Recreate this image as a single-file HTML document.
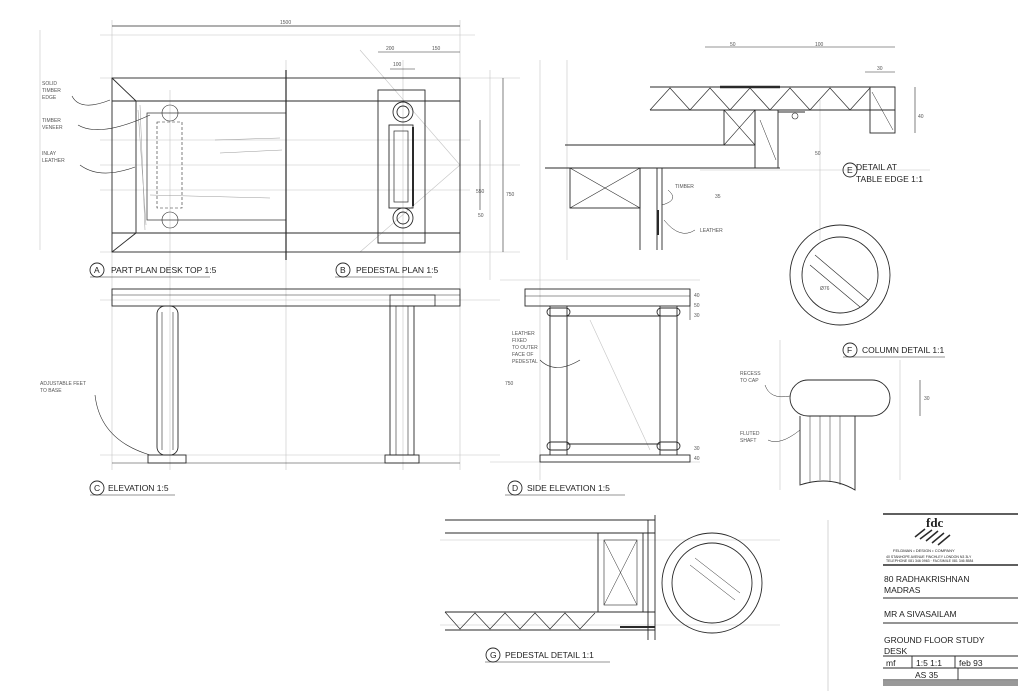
<!DOCTYPE html>
<html><head><style>
html,body{margin:0;padding:0;background:#fff;}
svg{display:block;}
text{font-family:"Liberation Sans",sans-serif;fill:#222;stroke:none;}
.t{font-size:8.5px;}
.s{font-size:5px;fill:#555;}
</style></head><body>
<svg width="1024" height="691" viewBox="0 0 1024 691" stroke="#2a2a2a" fill="none" stroke-width="0.9">
<!-- construction lines -->
<g stroke="#c4c4c4" stroke-width="0.6">
<line x1="100" y1="35" x2="475" y2="35"/><line x1="100" y1="78" x2="520" y2="78"/><line x1="100" y1="252" x2="520" y2="252"/>
<line x1="100" y1="165" x2="520" y2="165"/><line x1="40" y1="30" x2="40" y2="250"/>
<line x1="112" y1="20" x2="112" y2="470"/><line x1="460" y1="20" x2="460" y2="470"/><line x1="286" y1="60" x2="286" y2="470"/>
<line x1="170" y1="90" x2="170" y2="470"/><line x1="403" y1="60" x2="403" y2="470"/>
<line x1="360" y1="50" x2="460" y2="165"/><line x1="460" y1="165" x2="360" y2="252"/>
<line x1="500" y1="280" x2="700" y2="280"/><line x1="490" y1="462" x2="700" y2="462"/>
<line x1="567" y1="60" x2="567" y2="260"/><line x1="820" y1="100" x2="820" y2="240"/>
<line x1="440" y1="540" x2="780" y2="540"/><line x1="440" y1="625" x2="780" y2="625"/>
<line x1="590" y1="320" x2="650" y2="450"/>
<line x1="780" y1="340" x2="780" y2="490"/><line x1="900" y1="360" x2="900" y2="480"/>
<line x1="100" y1="140" x2="470" y2="140"/><line x1="100" y1="190" x2="470" y2="190"/>
<line x1="490" y1="70" x2="490" y2="280"/><line x1="540" y1="60" x2="540" y2="480"/>
<line x1="100" y1="300" x2="500" y2="300"/><line x1="100" y1="455" x2="500" y2="455"/>
<line x1="700" y1="170" x2="930" y2="170"/>
</g>
<!-- A plan -->
<rect x="112" y="78" width="348" height="174"/>
<line x1="112" y1="101" x2="460" y2="101"/><line x1="112" y1="233" x2="460" y2="233"/>
<line x1="112" y1="78" x2="136" y2="101"/><line x1="112" y1="252" x2="136" y2="233"/>
<line x1="136" y1="101" x2="136" y2="233"/>
<rect x="147" y="113" width="139" height="107" stroke-width="0.7"/>
<line x1="286" y1="70" x2="286" y2="260" stroke-width="1.2"/>
<rect x="157" y="122" width="25" height="86" stroke-dasharray="3 2" stroke-width="0.6"/>
<circle cx="170" cy="113" r="8" stroke-width="0.6"/><circle cx="170" cy="220" r="8" stroke-width="0.6"/>
<g stroke="#999" stroke-width="0.5"><line x1="140" y1="105" x2="145" y2="230"/><line x1="138" y1="110" x2="146" y2="225"/><line x1="215" y1="140" x2="280" y2="138"/><line x1="220" y1="153" x2="282" y2="150"/><line x1="150" y1="195" x2="270" y2="198"/></g>
<line x1="112" y1="26" x2="460" y2="26" stroke-width="0.7"/>
<text x="280" y="24" class="s">1500</text>
<g class="s"><text x="42" y="85" class="s">SOLID</text><text x="42" y="92" class="s">TIMBER</text><text x="42" y="99" class="s">EDGE</text><text x="42" y="122" class="s">TIMBER</text><text x="42" y="129" class="s">VENEER</text><text x="42" y="155" class="s">INLAY</text><text x="42" y="162" class="s">LEATHER</text></g>
<path d="M72 96 Q80 112 110 100 M78 125 Q100 138 150 115 M80 165 Q100 180 135 167" stroke-width="0.6"/>
<!-- B pedestal plan -->
<rect x="378" y="90" width="47" height="153"/>
<circle cx="403" cy="112" r="10"/><circle cx="403" cy="112" r="6"/>
<circle cx="403" cy="218" r="10"/><circle cx="403" cy="218" r="6"/>
<rect x="389" y="125" width="24" height="83"/><rect x="394" y="131" width="14" height="71" stroke-width="0.7"/>
<line x1="413" y1="127" x2="413" y2="206" stroke-width="2"/>
<line x1="378" y1="52" x2="460" y2="52" stroke-width="0.6"/><line x1="390" y1="69" x2="415" y2="69" stroke-width="0.6"/>
<text x="386" y="50" class="s">200</text><text x="432" y="50" class="s">150</text><text x="393" y="66" class="s">100</text>
<line x1="480" y1="120" x2="480" y2="210" stroke-width="0.6"/><line x1="503" y1="78" x2="503" y2="252" stroke-width="0.6"/>
<text x="476" y="193" class="s">550</text><text x="506" y="196" class="s">750</text><text x="478" y="217" class="s">50</text>
<!-- labels A B -->
<circle cx="97" cy="270" r="7"/><text x="94" y="273" class="t">A</text>
<text x="111" y="273" class="t">PART  PLAN  DESK TOP  1:5</text><line x1="90" y1="277" x2="210" y2="277" stroke-width="0.6"/>
<circle cx="343" cy="270" r="7"/><text x="340" y="273" class="t">B</text>
<text x="356" y="273" class="t">PEDESTAL   PLAN 1:5</text><line x1="335" y1="277" x2="432" y2="277" stroke-width="0.6"/>
<!-- C elevation -->
<rect x="112" y="289" width="348" height="17"/><line x1="112" y1="295" x2="460" y2="295" stroke-width="0.6"/>
<rect x="390" y="295" width="45" height="11" stroke-width="0.8"/>
<rect x="157" y="306" width="21" height="149" rx="8"/><line x1="162" y1="312" x2="162" y2="450" stroke-width="0.6"/><line x1="173" y1="312" x2="173" y2="450" stroke-width="0.6"/>
<rect x="390" y="306" width="24" height="149"/><line x1="396" y1="306" x2="396" y2="455" stroke-width="0.6"/><line x1="408" y1="306" x2="408" y2="455" stroke-width="0.6"/>
<rect x="148" y="455" width="38" height="8"/><rect x="385" y="455" width="34" height="8"/>
<line x1="112" y1="463" x2="460" y2="463" stroke-width="0.6"/>
<text x="40" y="385" class="s">ADJUSTABLE FEET</text><text x="40" y="392" class="s">TO BASE</text>
<path d="M95 395 Q100 440 150 455" stroke-width="0.6"/>
<circle cx="97" cy="488" r="7"/><text x="94" y="491" class="t">C</text>
<text x="108" y="491" class="t">ELEVATION  1:5</text><line x1="90" y1="495" x2="175" y2="495" stroke-width="0.6"/>
<!-- D side elevation -->
<rect x="525" y="289" width="165" height="17"/><line x1="525" y1="296" x2="690" y2="296" stroke-width="0.6"/>
<line x1="550" y1="306" x2="550" y2="455"/><line x1="567" y1="306" x2="567" y2="455"/>
<line x1="660" y1="306" x2="660" y2="455"/><line x1="677" y1="306" x2="677" y2="455"/>
<rect x="547" y="308" width="23" height="8" rx="4"/><rect x="657" y="308" width="23" height="8" rx="4"/>
<rect x="547" y="442" width="23" height="8" rx="4"/><rect x="657" y="442" width="23" height="8" rx="4"/>
<line x1="567" y1="316" x2="660" y2="316"/><line x1="567" y1="444" x2="660" y2="444"/>
<rect x="540" y="455" width="150" height="7"/>
<line x1="690" y1="289" x2="690" y2="320" stroke-width="0.6"/>
<text x="694" y="297" class="s">40</text><text x="694" y="307" class="s">50</text><text x="694" y="317" class="s">30</text>
<text x="694" y="450" class="s">30</text><text x="694" y="460" class="s">40</text><text x="505" y="385" class="s">750</text>
<text x="512" y="335" class="s">LEATHER</text><text x="512" y="342" class="s">FIXED</text><text x="512" y="349" class="s">TO OUTER</text><text x="512" y="356" class="s">FACE OF</text><text x="512" y="363" class="s">PEDESTAL</text>
<path d="M540 360 Q555 375 580 360" stroke-width="0.6"/>
<circle cx="515" cy="488" r="7"/><text x="512" y="491" class="t">D</text>
<text x="527" y="491" class="t">SIDE  ELEVATION  1:5</text><line x1="505" y1="495" x2="625" y2="495" stroke-width="0.6"/>
<!-- E detail -->
<line x1="650" y1="87" x2="895" y2="87"/><line x1="650" y1="110" x2="895" y2="110"/>
<line x1="720" y1="87" x2="780" y2="87" stroke-width="2.5"/>
<polyline points="650,110 670,88 690,110 710,88 730,110 750,88 770,110 790,88 810,110 830,88 850,110 870,88" stroke-width="0.7"/>
<rect x="870" y="87" width="25" height="46"/><line x1="872" y1="92" x2="893" y2="130" stroke-width="0.5"/>
<rect x="724" y="110" width="31" height="35"/><line x1="724" y1="110" x2="755" y2="145" stroke-width="0.6"/><line x1="755" y1="110" x2="724" y2="145" stroke-width="0.6"/>
<rect x="755" y="110" width="23" height="58"/><line x1="760" y1="120" x2="776" y2="160" stroke-width="0.5"/>
<line x1="778" y1="112" x2="805" y2="112"/><circle cx="795" cy="116" r="3" stroke-width="0.6"/>
<line x1="565" y1="145" x2="755" y2="145"/><line x1="545" y1="168" x2="780" y2="168"/>
<rect x="570" y="168" width="70" height="40"/><line x1="570" y1="168" x2="640" y2="208" stroke-width="0.6"/><line x1="640" y1="168" x2="570" y2="208" stroke-width="0.6"/>
<line x1="640" y1="168" x2="640" y2="250"/><line x1="657" y1="168" x2="657" y2="250"/><line x1="662" y1="168" x2="662" y2="250"/>
<line x1="658" y1="210" x2="658" y2="235" stroke-width="2"/>
<line x1="705" y1="47" x2="895" y2="47" stroke-width="0.6"/><line x1="865" y1="72" x2="895" y2="72" stroke-width="0.6"/><line x1="915" y1="87" x2="915" y2="133" stroke-width="0.6"/>
<text x="730" y="46" class="s">50</text><text x="815" y="46" class="s">100</text><text x="877" y="70" class="s">30</text><text x="918" y="118" class="s">40</text>
<text x="815" y="155" class="s">50</text><text x="715" y="198" class="s">35</text>
<text x="675" y="188" class="s">TIMBER</text><text x="700" y="232" class="s">LEATHER</text>
<path d="M668 190 Q680 200 662 205 M695 230 Q680 240 664 220" stroke-width="0.5"/>
<circle cx="850" cy="170" r="7"/><text x="847" y="173" class="t">E</text>
<text x="856" y="170" class="t">DETAIL  AT</text><text x="856" y="182" class="t">TABLE  EDGE 1:1</text>
<!-- F column detail -->
<circle cx="840" cy="275" r="50"/><circle cx="840" cy="275" r="38"/>
<line x1="815" y1="255" x2="868" y2="300" stroke-width="0.6"/><line x1="810" y1="265" x2="860" y2="307" stroke-width="0.6"/>
<text x="820" y="290" class="s">Ø76</text>
<circle cx="850" cy="350" r="7"/><text x="847" y="353" class="t">F</text>
<text x="862" y="353" class="t">COLUMN  DETAIL 1:1</text><line x1="843" y1="357" x2="945" y2="357" stroke-width="0.6"/>
<rect x="790" y="380" width="100" height="36" rx="18"/>
<path d="M800 416 L800 485 Q830 475 855 490 L855 416" />
<g stroke-width="0.5"><line x1="810" y1="416" x2="810" y2="482"/><line x1="820" y1="416" x2="820" y2="480"/><line x1="830" y1="416" x2="830" y2="482"/><line x1="840" y1="416" x2="840" y2="485"/></g>
<line x1="920" y1="380" x2="920" y2="416" stroke-width="0.6"/><text x="924" y="400" class="s">30</text>
<text x="740" y="375" class="s">RECESS</text><text x="740" y="382" class="s">TO CAP</text>
<text x="740" y="435" class="s">FLUTED</text><text x="740" y="442" class="s">SHAFT</text>
<path d="M765 385 Q770 400 790 396 M768 440 Q780 446 800 430" stroke-width="0.5"/>
<!-- G pedestal detail -->
<line x1="445" y1="520" x2="655" y2="520"/><line x1="445" y1="533" x2="655" y2="533"/>
<line x1="445" y1="612" x2="655" y2="612"/><line x1="445" y1="630" x2="655" y2="630"/>
<polyline points="445,612 460,629 475,613 490,629 505,613 520,629 535,613 550,629 565,613 580,629 595,613" stroke-width="0.7"/>
<rect x="598" y="533" width="45" height="79"/><rect x="604" y="540" width="33" height="65" stroke-width="0.6"/>
<line x1="604" y1="540" x2="637" y2="605" stroke-width="0.5"/><line x1="637" y1="540" x2="604" y2="605" stroke-width="0.5"/>
<line x1="648" y1="520" x2="648" y2="640"/><line x1="655" y1="515" x2="655" y2="640"/>
<line x1="620" y1="627" x2="655" y2="627" stroke-width="2"/>
<circle cx="712" cy="583" r="50"/><circle cx="712" cy="583" r="40"/>
<line x1="690" y1="565" x2="735" y2="600" stroke-width="0.5"/><line x1="695" y1="558" x2="740" y2="593" stroke-width="0.5"/>
<circle cx="493" cy="655" r="7"/><text x="490" y="658" class="t">G</text>
<text x="505" y="658" class="t">PEDESTAL  DETAIL 1:1</text><line x1="485" y1="662" x2="610" y2="662" stroke-width="0.6"/>
<!-- title block -->
<line x1="828" y1="520" x2="828" y2="691" stroke="#bbb" stroke-width="0.6"/>
<line x1="883" y1="514" x2="1018" y2="514" stroke-width="1.5"/>
<text x="926" y="527" style="font-family:'Liberation Serif',serif;font-size:13px;font-weight:bold">fdc</text>
<g stroke-width="1.5"><line x1="915" y1="537" x2="925" y2="529"/><line x1="920" y1="539" x2="932" y2="530"/><line x1="926" y1="541" x2="938" y2="531"/><line x1="932" y1="543" x2="944" y2="533"/><line x1="938" y1="545" x2="950" y2="535"/></g>
<text x="893" y="552" style="font-size:4px">FELDMAN • DESIGN • COMPANY</text>
<text x="886" y="558" style="font-size:3.5px">40 STANHOPE AVENUE FINCHLEY LONDON N3 3LY</text>
<text x="886" y="562" style="font-size:3.5px">TELEPHONE 081 346 0963 · FACSIMILE 081 346 8584</text>
<line x1="883" y1="565" x2="1018" y2="565" stroke-width="1.5"/>
<text x="884" y="582" class="t">80  RADHAKRISHNAN</text><text x="884" y="593" class="t">MADRAS</text>
<line x1="883" y1="598" x2="1018" y2="598"/>
<text x="884" y="617" class="t">MR  A  SIVASAILAM</text>
<line x1="883" y1="623" x2="1018" y2="623"/>
<text x="884" y="643" class="t">GROUND  FLOOR  STUDY</text><text x="884" y="654" class="t">DESK</text>
<line x1="883" y1="656" x2="1018" y2="656"/>
<text x="886" y="666" class="t">mf</text><line x1="912" y1="656" x2="912" y2="668"/><text x="916" y="666" class="t">1:5 1:1</text>
<line x1="955" y1="656" x2="955" y2="668"/><text x="959" y="666" class="t">feb 93</text>
<line x1="883" y1="668" x2="1018" y2="668"/><text x="915" y="678" class="t">AS  35</text><line x1="958" y1="668" x2="958" y2="680"/>
<line x1="883" y1="680" x2="1018" y2="680"/>
<rect x="883" y="681" width="135" height="5" fill="#999" stroke="none"/>
</svg>
</body></html>
